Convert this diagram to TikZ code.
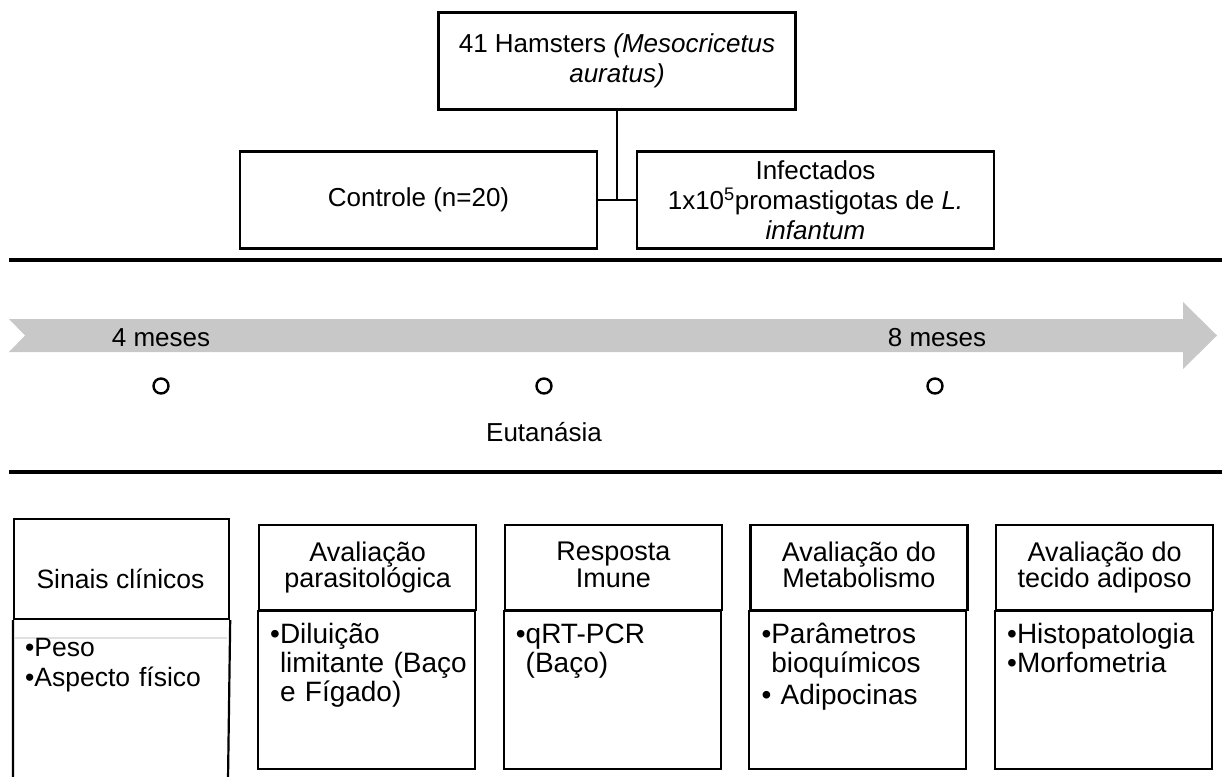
\documentclass[tikz,border=0pt]{standalone}
\usepackage{fontspec}
\setmainfont{Liberation Sans}
\newcommand{\fsz}{\fontsize{28}{29}\selectfont}
\newcommand{\fsa}{\fontsize{26.5}{30}\selectfont}
\newcommand{\fhd}{\fontsize{27}{26.5}\selectfont}
\newcommand{\ftp}{\fontsize{26}{30}\selectfont}
\newcommand{\flb}{\fontsize{26}{30}\selectfont}
\newcommand{\ind}{\phantom{\textbullet}}
\newcommand{\eqh}{\vphantom{Ãgp}}
\definecolor{bandgray}{RGB}{200,200,200}
\begin{document}
\begin{tikzpicture}[x=1pt,y=-1pt,
  frame/.style={draw, line width=2.2pt, inner sep=0pt, align=center},
  topbox/.style={frame, font=\ftp, minimum width=357pt, minimum height=97pt},
  headbox/.style={frame, font=\fhd, minimum width=217pt, minimum height=85pt, anchor=north west,
    execute at begin node=\eqh, execute at end node=\eqh},
  bodytext/.style={inner sep=0pt, font=\fsz, text width=205pt, align=left, anchor=base west},
  lbl/.style={font=\flb, inner sep=0pt},
  dot/.style={circle, draw, line width=2.4pt, minimum size=15pt, inner sep=0pt},
  rule/.style={line width=3.5pt},
  link/.style={line width=2.2pt}
]
\useasboundingbox (0,0) rectangle (1222,776);

% top part
\node[topbox] (hams) at (617,61) {41 Hamsters \textit{(Mesocricetus}\\\textit{auratus)}};
\node[topbox] (ctrl) at (418.5,200) {Controle (n=20)};
\node[topbox] (inf) at (815.5,200) {Infectados\\1x10\textsuperscript{5}promastigotas de \textit{L.}\\\textit{infantum}};
\draw[link] (hams.south) -- (hams.south |- ctrl.east) coordinate (junc);
\draw[link] (ctrl.east) -- (inf.west);

\draw[rule] (9,260) -- (1222,260);

% timeline arrow
\fill[bandgray] (9,319) -- (1183,319) -- (1183,302) -- (1217,335.5) -- (1183,369) -- (1183,352) -- (9,352) -- (25,335.5) -- cycle;
\node[lbl] (m4) at (161,338) {4 meses};
\node[lbl] (m8) at (937,338) {8 meses};
\node[dot] (c1) at (161,386) {};
\node[dot] (c2) at (544,386) {};
\node[dot] (c3) at (935,386) {};
\node[lbl] (eut) at (544,432) {Eutanásia};

\draw[rule] (9,472) -- (1222,472);

% bottom boxes
\node[headbox, minimum width=215pt, minimum height=100pt, execute at begin node={}, execute at end node={}] (h1) at (13,518) {};
\node[font=\fsa, inner sep=0pt] (s1) at (120.5,579) {Sinais clínicos};
\draw[line width=2.2pt] (h1.south west) -- (13,780) (h1.south east) -- (228,780);
\draw[black!12, line width=1.5pt] (14,638) -- (227,638);
\node[bodytext, font=\fsa] (t1) at (25,656) {\textbullet Peso\\\textbullet Aspecto físico};

\node[headbox] (h2) at (258,524) {Avaliação\\parasitológica};
\draw[line width=2.2pt] (h2.south west) rectangle ++(217,158);
\node[bodytext] (t2) at (270,643) {\textbullet Diluição\\\ind limitante (Baço\\\ind e Fígado)};

\node[headbox] (h3) at (503.7,524) {Resposta\\Imune};
\draw[line width=2.2pt] (h3.south west) rectangle ++(217,158);
\node[bodytext] (t3) at (515.7,643) {\textbullet qRT-PCR\\\ind(Baço)};

\node[headbox] (h4) at (749.3,524) {Avaliação do\\Metabolismo};
\draw[line width=2.2pt] (h4.south west) rectangle ++(217,158);
\node[bodytext] (t4) at (761.3,643) {\textbullet Parâmetros\\\ind bioquímicos\\[3pt]\textbullet\ Adipocinas};

\node[headbox] (h5) at (995,524) {Avaliação do\\tecido adiposo};
\draw[line width=2.2pt] (h5.south west) rectangle ++(217,158);
\node[bodytext] (t5) at (1007,643) {\textbullet Histopatologia\\\textbullet Morfometria};
\end{tikzpicture}
\end{document}
